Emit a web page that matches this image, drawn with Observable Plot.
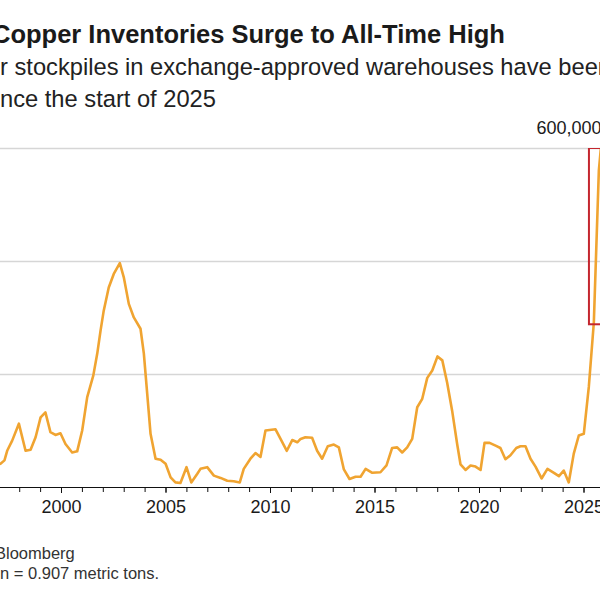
<!DOCTYPE html>
<html>
<head>
<meta charset="utf-8">
<script src="https://cdn.jsdelivr.net/npm/d3@7"></script>
<script src="https://cdn.jsdelivr.net/npm/@observablehq/plot@0.6"></script>
<style>
  html, body { margin: 0; padding: 0; background: #fff; }
  body { width: 600px; height: 600px; overflow: hidden; position: relative; font-family: "Liberation Sans", Arial, sans-serif; color: #1a1a1a; }
  .t { position: absolute; white-space: nowrap; }
  #title { left: -8px; top: 20px; font-size: 25.5px; font-weight: bold; }
  #sub1 { left: 0px; top: 54px; font-size: 23.7px; color: #222; }
  #sub2 { left: 0px; top: 86px; font-size: 23.7px; color: #222; }
  #chart { position: absolute; left: 0; top: 110px; }
  #foot1 { left: -5px; top: 544px; font-size: 16.5px; color: #333; }
  #foot2 { left: 0px; top: 564px; font-size: 16.5px; color: #333; }
</style>
</head>
<body>
<div class="t" id="title">Copper Inventories Surge to All-Time High</div>
<div class="t" id="sub1">r stockpiles in exchange-approved warehouses have been surging</div>
<div class="t" id="sub2">nce the start of 2025</div>
<div id="chart"></div>
<div class="t" id="foot1">Bloomberg</div>
<div class="t" id="foot2">n = 0.907 metric tons.</div>
<script>
// Decimal years (approximate sampling)
const years = [
  1997.08,1997.27,1997.40,1997.64,1997.96,1998.28,1998.52,1998.76,1999.00,1999.23,
  1999.47,1999.71,1999.95,2000.19,2000.51,2000.75,2000.99,2001.23,2001.52,2001.71,
  2001.87,2002.02,2002.26,2002.50,2002.79,2002.98,2003.22,2003.46,2003.78,2003.94,
  2004.10,2004.26,2004.50,2004.74,2004.98,2005.22,2005.45,2005.69,2005.98,2006.21,
  2006.49,2006.65,2006.97,2007.29,2007.61,2007.93,2008.24,2008.53,2008.72,2009.04,
  2009.28,2009.52,2009.76,2010.24,2010.48,2010.78,2011.04,2011.28,2011.44,2011.67,
  2011.99,2012.23,2012.47,2012.74,2013.03,2013.27,2013.51,2013.78,2014.07,2014.31,
  2014.55,2014.87,2015.26,2015.55,2015.82,2016.06,2016.30,2016.54,2016.78,2017.02,
  2017.26,2017.50,2017.74,2017.99,2018.22,2018.45,2018.69,2018.93,2019.09,2019.33,
  2019.57,2019.81,2020.05,2020.24,2020.48,2020.77,2021.00,2021.24,2021.48,2021.76,
  2021.96,2022.20,2022.44,2022.68,2022.97,2023.25,2023.56,2023.80,2024.03,2024.27,
  2024.51,2024.75,2024.99,2025.23,2025.47,2025.71,2025.84
];
// Inventories, short tons
const tons = [
  42000,48000,65000,83000,113000,65000,67000,89000,124000,133000,
  98000,93000,96000,77000,62000,64000,101000,160000,198000,237000,
  278000,313000,354000,378000,397000,372000,325000,301000,281000,237000,
  166000,95000,51000,49000,42000,18000,9000,8000,36000,9000,
  24000,33000,36000,21000,17000,12000,11000,9000,33000,51000,
  61000,54000,101000,103000,86000,65000,84000,80000,86000,89000,
  88000,65000,51000,73000,76000,71000,32000,15000,19000,19000,
  33000,26000,27000,39000,70000,71000,62000,71000,86000,142000,
  157000,194000,207000,232000,225000,186000,136000,77000,41000,31000,
  39000,37000,31000,79000,79000,74000,70000,50000,57000,70000,
  73000,73000,51000,37000,16000,33000,26000,20000,30000,9000,
  60000,92000,95000,178000,292000,561000,614000
];
const gridValues = [200000, 400000, 600000];
const topLabel = [600000];
const yearTicks = d3.range(1998, 2026);
const labelYears = [2000, 2005, 2010, 2015, 2020, 2025];
const xDomain = [1997.081, 2025.789];
// highlighted 2025 surge box
const highlight = [{x1: 2025.26, x2: 2026.6, y1: 288000, y2: 600000}];

const data = years.map((y, i) => ({year: y, tons: tons[i]}));

const chart = Plot.plot({
  width: 600,
  height: 412,
  marginLeft: 0,
  marginRight: 0,
  marginTop: 38,
  marginBottom: 35,
  style: {fontFamily: "'Liberation Sans', Arial, sans-serif", fontSize: "18px", color: "#1a1a1a", background: "transparent"},
  x: {domain: xDomain, axis: null},
  y: {domain: [0, 600000], axis: null},
  marks: [
    Plot.ruleY(gridValues, {stroke: "#d6d6d6", strokeWidth: 1.5}),
    Plot.text(topLabel, {y: d => d, frameAnchor: "right", textAnchor: "end", dx: 1, dy: -20, text: d => d3.format(",")(d), fontSize: 18, fill: "#1a1a1a"}),
    Plot.line(data, {x: "year", y: "tons", stroke: "#f0a431", strokeWidth: 2.6, strokeLinejoin: "round", clip: true}),
    Plot.rect(highlight, {x1: "x1", x2: "x2", y1: "y1", y2: "y2", fill: "none", stroke: "#c4262e", strokeWidth: 2, clip: true}),
    Plot.ruleY([0], {stroke: "#111", strokeWidth: 1.2}),
    Plot.axisX({ticks: yearTicks, tickSize: 5, tickFormat: () => "", stroke: "#111"}),
    Plot.axisX({ticks: labelYears, tickSize: 6, tickPadding: 7, tickFormat: d => String(d), fontSize: 18, stroke: "#111"})
  ]
});
document.getElementById("chart").appendChild(chart);
</script>
</body>
</html>
